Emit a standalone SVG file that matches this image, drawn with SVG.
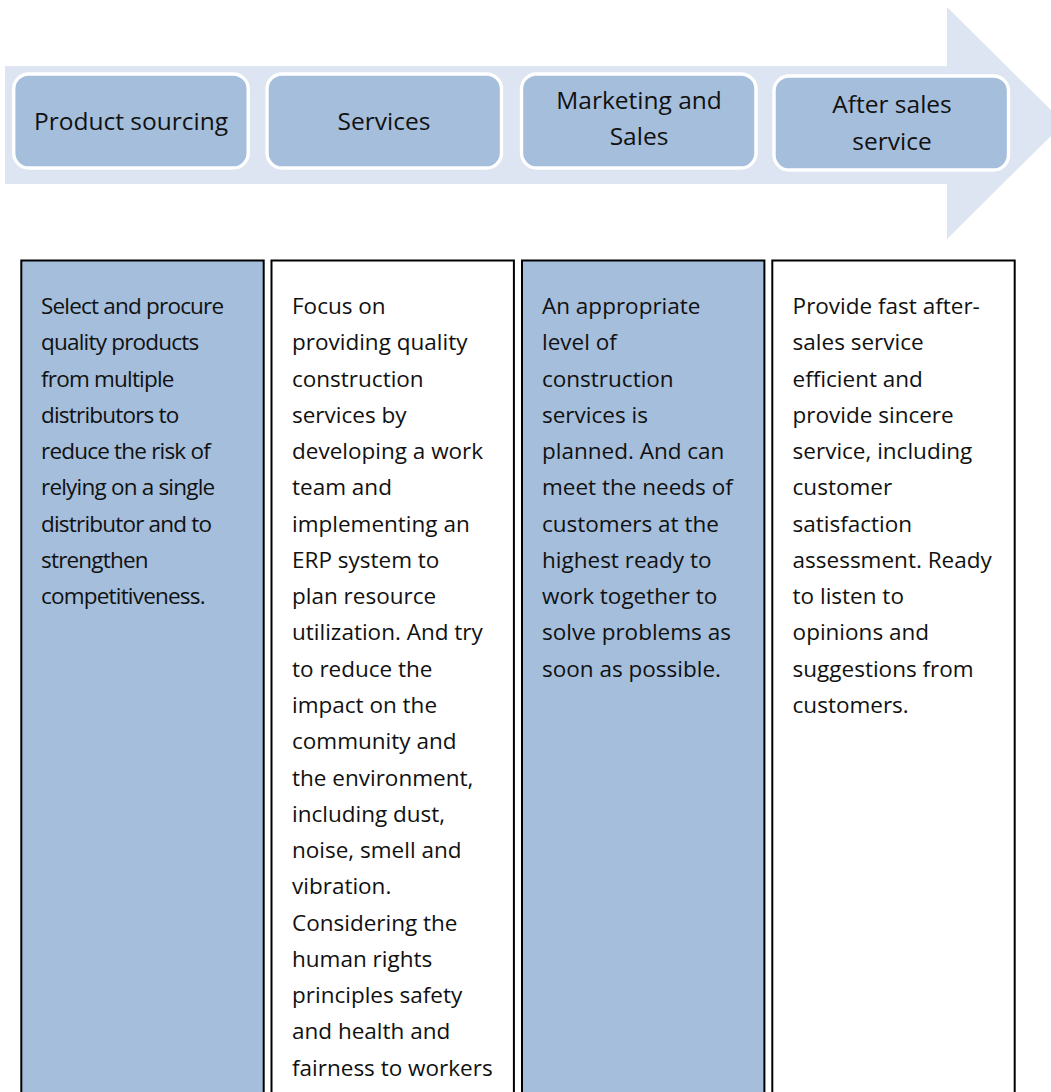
<svg xmlns="http://www.w3.org/2000/svg" width="1051" height="1092" viewBox="0 0 1051 1092">
  <style>
    .stage { fill: #A4BEDC; stroke: #FFFFFF; stroke-width: 3.4; }
    .stage-label { font-family: "Open Sans", "Liberation Sans", sans-serif; font-size: 24.5px; fill: #111111; text-anchor: middle; }
    .col { stroke: #000000; stroke-width: 2; }
    .col-blue { fill: #A4BEDC; }
    .col-white { fill: #FFFFFF; }
    .body { font-family: "Open Sans", "Liberation Sans", sans-serif; font-size: 22.5px; fill: #111111; }
    .tight { letter-spacing: -0.8px; }
  </style>

  <rect width="1051" height="1092" fill="#FFFFFF"/>

  <!-- flow arrow behind the stages -->
  <g id="flow-arrow">
    <polygon points="5,66 947,66 947,7 1064,123 947,239 947,184 5,184" fill="#DCE5F1"/>
  </g>

  <!-- stage boxes -->
  <g id="stage-product-sourcing">
    <rect class="stage" x="13.7" y="74" width="234.5" height="94" rx="15"/>
    <text class="stage-label" x="131" y="130">Product sourcing</text>
  </g>
  <g id="stage-services">
    <rect class="stage" x="267" y="74" width="234.5" height="94" rx="15"/>
    <text class="stage-label" x="384" y="130">Services</text>
  </g>
  <g id="stage-marketing">
    <rect class="stage" x="521.5" y="74" width="234.5" height="94" rx="15"/>
    <text class="stage-label" x="639" y="109.3">Marketing and</text>
    <text class="stage-label" x="639" y="145">Sales</text>
  </g>
  <g id="stage-after-sales">
    <rect class="stage" x="774" y="76" width="234.5" height="94" rx="15"/>
    <text class="stage-label" x="892" y="112.8">After sales</text>
    <text class="stage-label" x="892" y="149.7">service</text>
  </g>

  <!-- stage description columns -->
  <g id="desc-product-sourcing">
    <rect class="col col-blue" x="21.3" y="260.5" width="242.4" height="900"/>
    <text class="body tight" x="41" y="314">
      <tspan x="41">Select and procure</tspan>
      <tspan x="41" dy="36.27">quality products</tspan>
      <tspan x="41" dy="36.27">from multiple</tspan>
      <tspan x="41" dy="36.27">distributors to</tspan>
      <tspan x="41" dy="36.27">reduce the risk of</tspan>
      <tspan x="41" dy="36.27">relying on a single</tspan>
      <tspan x="41" dy="36.27">distributor and to</tspan>
      <tspan x="41" dy="36.27">strengthen</tspan>
      <tspan x="41" dy="36.27">competitiveness.</tspan>
    </text>
  </g>
  <g id="desc-services">
    <rect class="col col-white" x="271.5" y="260.5" width="242.4" height="900"/>
    <text class="body" x="292" y="314">
      <tspan x="292">Focus on</tspan>
      <tspan x="292" dy="36.27">providing quality</tspan>
      <tspan x="292" dy="36.27">construction</tspan>
      <tspan x="292" dy="36.27">services by</tspan>
      <tspan x="292" dy="36.27">developing a work</tspan>
      <tspan x="292" dy="36.27">team and</tspan>
      <tspan x="292" dy="36.27">implementing an</tspan>
      <tspan x="292" dy="36.27">ERP system to</tspan>
      <tspan x="292" dy="36.27">plan resource</tspan>
      <tspan x="292" dy="36.27">utilization. And try</tspan>
      <tspan x="292" dy="36.27">to reduce the</tspan>
      <tspan x="292" dy="36.27">impact on the</tspan>
      <tspan x="292" dy="36.27">community and</tspan>
      <tspan x="292" dy="36.27">the environment,</tspan>
      <tspan x="292" dy="36.27">including dust,</tspan>
      <tspan x="292" dy="36.27">noise, smell and</tspan>
      <tspan x="292" dy="36.27">vibration.</tspan>
      <tspan x="292" dy="36.27">Considering the</tspan>
      <tspan x="292" dy="36.27">human rights</tspan>
      <tspan x="292" dy="36.27">principles safety</tspan>
      <tspan x="292" dy="36.27">and health and</tspan>
      <tspan x="292" dy="36.27">fairness to workers</tspan>
    </text>
  </g>
  <g id="desc-marketing">
    <rect class="col col-blue" x="522" y="260.5" width="242.4" height="900"/>
    <text class="body" x="542" y="314">
      <tspan x="542">An appropriate</tspan>
      <tspan x="542" dy="36.27">level of</tspan>
      <tspan x="542" dy="36.27">construction</tspan>
      <tspan x="542" dy="36.27">services is</tspan>
      <tspan x="542" dy="36.27">planned. And can</tspan>
      <tspan x="542" dy="36.27">meet the needs of</tspan>
      <tspan x="542" dy="36.27">customers at the</tspan>
      <tspan x="542" dy="36.27">highest ready to</tspan>
      <tspan x="542" dy="36.27">work together to</tspan>
      <tspan x="542" dy="36.27">solve problems as</tspan>
      <tspan x="542" dy="36.27">soon as possible.</tspan>
    </text>
  </g>
  <g id="desc-after-sales">
    <rect class="col col-white" x="772.3" y="260.5" width="242.4" height="900"/>
    <text class="body" x="792.6" y="314">
      <tspan x="792.6">Provide fast after-</tspan>
      <tspan x="792.6" dy="36.27">sales service</tspan>
      <tspan x="792.6" dy="36.27">efficient and</tspan>
      <tspan x="792.6" dy="36.27">provide sincere</tspan>
      <tspan x="792.6" dy="36.27">service, including</tspan>
      <tspan x="792.6" dy="36.27">customer</tspan>
      <tspan x="792.6" dy="36.27">satisfaction</tspan>
      <tspan x="792.6" dy="36.27">assessment. Ready</tspan>
      <tspan x="792.6" dy="36.27">to listen to</tspan>
      <tspan x="792.6" dy="36.27">opinions and</tspan>
      <tspan x="792.6" dy="36.27">suggestions from</tspan>
      <tspan x="792.6" dy="36.27">customers.</tspan>
    </text>
  </g>

  <!-- no connectors besides the flow arrow -->
  <g id="connectors"/>
</svg>
